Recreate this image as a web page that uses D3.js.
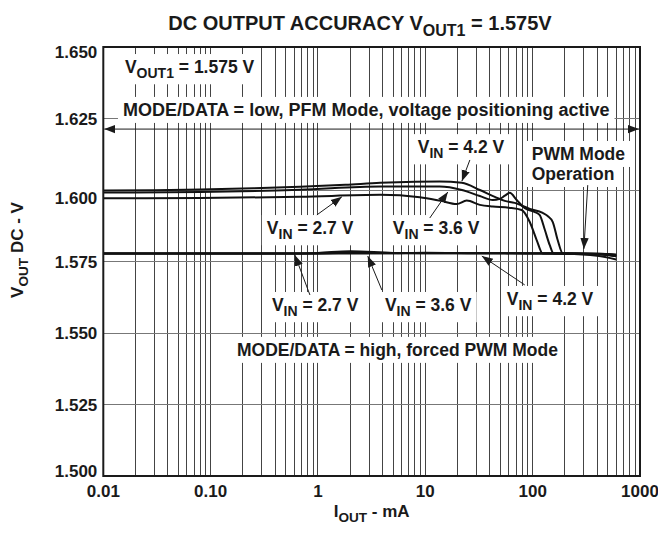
<!DOCTYPE html>
<html>
<head>
<meta charset="utf-8">
<script src="https://cdn.jsdelivr.net/npm/d3@7"></script>
<style>
  body { margin: 0; background: #fff; }
  svg text { font-family: "Liberation Sans", Arial, sans-serif; font-weight: bold; fill: #1a1a1a; }
</style>
</head>
<body>
<div id="chart"></div>
<script>
// axis ticks
const xTicks = [0.01, 0.1, 1, 10, 100, 1000]
const xTickLabels = ["0.01", "0.10", "1", "10", "100", "1000"]
const yTicks = [1.500, 1.525, 1.550, 1.575, 1.600, 1.625, 1.650]

// MODE/DATA = low (PFM), I in mA, V out in volts
const pfm42I = [0.01, 0.03, 0.08, 0.25, 0.68, 1.8, 3.8, 8, 13.6, 21.9, 32.2, 44.4, 55, 68, 94, 124, 138, 154, 171, 191, 250, 420, 600]
const pfm42V = [1.5998, 1.5999, 1.6002, 1.6006, 1.6011, 1.6018, 1.6025, 1.6029, 1.6030, 1.6025, 1.6000, 1.5976, 1.5962, 1.5955, 1.5934, 1.5920, 1.5909, 1.5888, 1.5825, 1.5778, 1.5777, 1.5775, 1.5768]
const pfm36I = [0.01, 0.08, 0.68, 3.8, 13.6, 21.9, 32.2, 42.5, 49.4, 55, 61.2, 71, 84, 105, 116, 130, 144, 157, 250, 420, 600]
const pfm36V = [1.5991, 1.5993, 1.6001, 1.6012, 1.6012, 1.6000, 1.5979, 1.5965, 1.5969, 1.5980, 1.5990, 1.5965, 1.5937, 1.5923, 1.5913, 1.5860, 1.5808, 1.5778, 1.5778, 1.5776, 1.5770]
const pfm27I = [0.01, 0.08, 0.68, 3.8, 8.9, 14, 19.6, 24.3, 32.2, 42.5, 60, 79, 94, 109, 124, 250, 420, 600]
const pfm27V = [1.5971, 1.5972, 1.5976, 1.5983, 1.5975, 1.5962, 1.5951, 1.5963, 1.5948, 1.5942, 1.5938, 1.5930, 1.5888, 1.5825, 1.5778, 1.5778, 1.5777, 1.5774]

// MODE/DATA = high (forced PWM)
const pwmI = [0.01, 0.1, 0.5, 1, 2, 5, 10, 30, 100, 200, 400, 600]
const pwm27V = [1.5779, 1.5779, 1.5779, 1.5779, 1.5780, 1.5779, 1.5779, 1.5779, 1.5779, 1.5778, 1.5777, 1.5774]
const pwm36V = [1.5778, 1.5778, 1.5778, 1.5780, 1.5786, 1.5780, 1.5779, 1.5779, 1.5778, 1.5778, 1.5776, 1.5768]
const pwm42V = [1.5777, 1.5777, 1.5777, 1.5777, 1.5778, 1.5779, 1.5781, 1.5779, 1.5778, 1.5777, 1.5770, 1.5757]

const series = [
    [pfm42I, pfm42V], [pfm36I, pfm36V], [pfm27I, pfm27V],
    [pwmI, pwm27V], [pwmI, pwm36V], [pwmI, pwm42V],
]

// annotations: text anchor [mA, V], text parts ("_" = subscript)
const labels = [
    {at: [0.0159, 1.6409], parts: ["V", "_OUT1", " = 1.575 V"]},
    {at: [0.01525, 1.6259], parts: ["MODE/DATA = low, PFM Mode, voltage positioning active"], big: true},
    {at: [8.5, 1.6129], parts: ["V", "_IN", " = 4.2 V"]},
    {at: [98, 1.6105], parts: ["PWM Mode"]},
    {at: [98, 1.6035], parts: ["Operation"]},
    {at: [0.334, 1.5846], parts: ["V", "_IN", " = 2.7 V"]},
    {at: [4.98, 1.5846], parts: ["V", "_IN", " = 3.6 V"]},
    {at: [0.372, 1.5577], parts: ["V", "_IN", " = 2.7 V"]},
    {at: [4.2, 1.5577], parts: ["V", "_IN", " = 3.6 V"]},
    {at: [57.4, 1.5598], parts: ["V", "_IN", " = 4.2 V"]},
    {at: [0.1758, 1.5420], parts: ["MODE/DATA = high, forced PWM Mode"]},
]
// arrows: from [mA, V] to [mA, V]
const arrows = [
    {from: [26, 1.6105], to: [21.9, 1.6031]},
    {from: [326, 1.6017], to: [300, 1.5794]},
    {from: [11.0, 1.5902], to: [16.2, 1.5993]},
    {from: [0.977, 1.5913], to: [1.669, 1.5976]},
    {from: [0.841, 1.5633], to: [0.609, 1.5773]},
    {from: [3.94, 1.5650], to: [2.91, 1.5769]},
    {from: [84.4, 1.5668], to: [33.6, 1.5769]},
]
const modeArrowV = 1.6213

const cfg = {
    width: 658, height: 533,
    left: 103.3, right: 640, top: 47, bottom: 476,
    tickSize: 17, noteSize: 17.5, bigNoteSize: 18, titleSize: 20,
}

const x = d3.scaleLog().domain([0.01, 1000]).range([cfg.left, cfg.right])
const y = d3.scaleLinear().domain([1.5, 1.65]).range([cfg.bottom, cfg.top])

const svg = d3.select("#chart").append("svg")
    .attr("width", cfg.width)
    .attr("height", cfg.height)

const defs = svg.append("defs")
defs.append("marker")
    .attr("id", "head")
    .attr("viewBox", "0 0 10 10")
    .attr("refX", 10).attr("refY", 5)
    .attr("markerWidth", 11).attr("markerHeight", 11)
    .attr("markerUnits", "userSpaceOnUse")
    .attr("orient", "auto-start-reverse")
    .append("path")
        .attr("d", "M0,1.2 L10,5 L0,8.8 Z")
        .attr("fill", "#1a1a1a")

// rich text with subscripts
const addText = (g, px, py, parts, size, anchor) => {
    const t = g.append("text")
        .attr("x", px).attr("y", py)
        .attr("font-size", size)
        .attr("text-anchor", anchor || "start")
    let shift = 0
    parts.forEach(p => {
        const sub = p.startsWith("_")
        const target = sub ? size * 0.3 : 0
        t.append("tspan")
            .attr("dy", target - shift)
            .attr("font-size", sub ? size * 0.8 : size)
            .text(sub ? p.slice(1) : p)
        shift = target
    })
    return t
}

// grid
const grid = svg.append("g").attr("shape-rendering", "crispEdges")
grid.selectAll("line.v")
    .data(x.ticks().filter(d => d > 0.01 && d < 1000))
    .enter().append("line")
        .attr("x1", d => x(d)).attr("x2", d => x(d))
        .attr("y1", cfg.top).attr("y2", cfg.bottom)
        .attr("stroke", "#444").attr("stroke-width", 1)
grid.selectAll("line.h")
    .data(yTicks.slice(1, -1))
    .enter().append("line")
        .attr("x1", cfg.left).attr("x2", cfg.right)
        .attr("y1", d => y(d)).attr("y2", d => y(d))
        .attr("stroke", "#777").attr("stroke-width", 1)

const boxes = svg.append("g")
const curves = svg.append("g")
const notes = svg.append("g")

const line = d3.line()
    .x(d => x(d[0]))
    .y(d => y(d[1]))
    .curve(d3.curveMonotoneX)

curves.selectAll("path")
    .data(series.map(([I, V]) => I.map((v, i) => [v, V[i]])))
    .enter().append("path")
        .attr("d", line)
        .attr("fill", "none")
        .attr("stroke", "#111")
        .attr("stroke-width", 2)

// annotations with white boxes behind
labels.forEach(l => {
    const t = addText(notes, x(l.at[0]), y(l.at[1]), l.parts, l.big ? cfg.bigNoteSize : cfg.noteSize)
    const bb = t.node().getBBox()
    boxes.append("rect")
        .attr("x", bb.x - 5).attr("y", bb.y - 3)
        .attr("width", bb.width + 10).attr("height", bb.height + 6)
        .attr("fill", "#fff")
})

notes.selectAll("line.arrow")
    .data(arrows)
    .enter().append("line")
        .attr("x1", d => x(d.from[0])).attr("y1", d => y(d.from[1]))
        .attr("x2", d => x(d.to[0])).attr("y2", d => y(d.to[1]))
        .attr("stroke", "#1a1a1a").attr("stroke-width", 1)
        .attr("marker-end", "url(#head)")

notes.append("line")
    .attr("x1", x(0.01) + 1).attr("x2", x(1000) - 1)
    .attr("y1", y(modeArrowV)).attr("y2", y(modeArrowV))
    .attr("stroke", "#1a1a1a").attr("stroke-width", 1)
    .attr("marker-start", "url(#head)")
    .attr("marker-end", "url(#head)")

// frame
svg.append("rect")
    .attr("x", cfg.left).attr("y", cfg.top)
    .attr("width", cfg.right - cfg.left).attr("height", cfg.bottom - cfg.top)
    .attr("fill", "none").attr("stroke", "#1a1a1a").attr("stroke-width", 2)

// tick labels
svg.selectAll("text.xt")
    .data(xTicks)
    .enter().append("text")
        .attr("x", d => x(d)).attr("y", cfg.bottom + 21)
        .attr("text-anchor", "middle")
        .attr("font-size", cfg.tickSize)
        .text((d, i) => xTickLabels[i])

// end labels sit inside the frame height, as in the original
const yNudge = d => d === 1.65 ? 5 : d === 1.5 ? -5 : d === 1.6 ? 8 : 0
svg.selectAll("text.yt")
    .data(yTicks)
    .enter().append("text")
        .attr("x", cfg.left - 6).attr("y", d => y(d) + 6 + yNudge(d))
        .attr("text-anchor", "end")
        .attr("font-size", cfg.tickSize)
        .text(d => d.toFixed(3))

// titles
addText(svg, 360, 30, ["DC OUTPUT ACCURACY V", "_OUT1", " = 1.575V"], cfg.titleSize, "middle")
addText(svg, (cfg.left + cfg.right) / 2, 517, ["I", "_OUT", " - mA"], cfg.tickSize, "middle")
const yt = svg.append("g").attr("transform", "translate(23,250) rotate(-90)")
addText(yt, 0, 0, ["V", "_OUT", " DC - V"], cfg.tickSize, "middle")
</script>
</body>
</html>
